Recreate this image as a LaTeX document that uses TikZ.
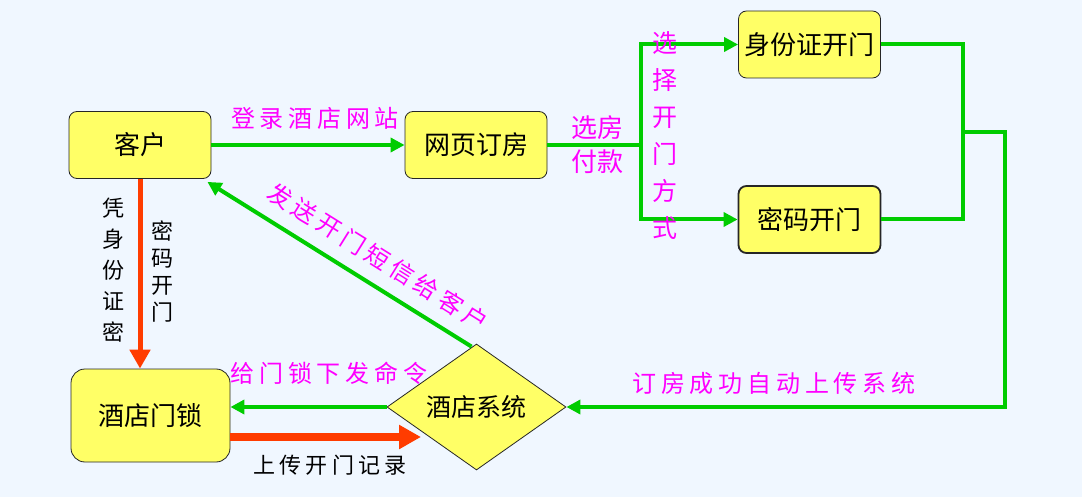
\documentclass[tikz,border=0pt]{standalone}
\usepackage{fontspec}
\newfontfamily\cjk{Noto Sans CJK SC}
\newfontfamily\cjkwide[LetterSpace=20]{Noto Sans CJK SC}
\usetikzlibrary{arrows.meta, shapes.geometric}
\definecolor{bgblue}{RGB}{240, 247, 255}
\definecolor{boxyellow}{RGB}{255, 255, 102}
\definecolor{flowgreen}{RGB}{0, 204, 0}
\definecolor{flowred}{RGB}{255, 60, 0}
\definecolor{labelpink}{RGB}{255, 0, 255}

\begin{document}
\begin{tikzpicture}[x=1pt, y=-1pt, font=\cjk,
    box/.style={draw=black!85, fill=boxyellow, rounded corners=8pt, line width=0.8pt,
        minimum width=\bw pt, minimum height=\bh pt, inner sep=0pt,
        font=\cjk\fontsize{26}{30}\selectfont},
    greenline/.style={flowgreen, line width=4pt},
    greenarrow/.style={greenline, -{Triangle[length=14pt, width=14pt]}},
    redarrow/.style={flowred, line width=5pt, -{Triangle[length=19pt, width=20pt]}},
    redthick/.style={flowred, line width=7.5pt, -{Triangle[length=22pt, width=23pt]}},
    pinklabel/.style={text=labelpink, inner sep=0pt, font=\cjkwide\fontsize{24}{28}\selectfont},
    pinkvert/.style={text=labelpink, inner sep=0pt, align=center},
    blacklabel/.style={text=black, inner sep=0pt, align=center}]
    % Dimensions
    \def\bw{142}  % box width
    \def\bh{67}   % box height

    % 1. Background
    \fill[bgblue] (0,0) rectangle (1082,497);
    \useasboundingbox (0,0) rectangle (1082,497);

    % 2. Boxes
    \node[box] (client) at (140,145) {客户};
    \node[box] (web) at (476,145) {网页订房};
    \node[box] (idopen) at (809.5,44.5) {身份证开门};
    \node[box, line width=1.8pt] (pwdopen) at (809.5,219.5) {密码开门};
    \node[box, minimum width=159pt, minimum height=93pt, rounded corners=14pt] (lock) at (150.5,415.5) {酒店门锁};
    \node[diamond, draw=black!85, fill=boxyellow, line width=0.8pt, inner sep=0pt,
        minimum width=179pt, minimum height=126pt, font=\cjk\fontsize{25}{29}\selectfont] (sys) at (476.5,407) {酒店系统};

    % 3. Corner points
    \coordinate (split) at (641,145);
    \coordinate (merge) at (963,132);
    \coordinate (turn) at (1005,132);
    \coordinate (rec) at (421,437);

    % 4. Green flow
    \draw[greenarrow] (client) -- (web);
    \draw[greenarrow] (web) -- (split) |- (idopen);
    \draw[greenarrow] (split) |- (pwdopen);
    \draw[greenline] (idopen) -| (merge) |- (pwdopen);
    \draw[greenarrow] (merge) -- (turn) |- (sys);
    \draw[greenarrow] (sys.west) -- (sys.west -| lock.east);
    \draw[greenarrow] ([xshift=-5pt, yshift=-3pt]sys.north) -- ([xshift=-4pt, yshift=-3pt]client.south east);

    % 5. Red flow
    \draw[redarrow] (client.south) -- (client.south |- lock.north);
    \draw[redthick] (lock.east |- rec) -- (rec);

    % 6. Labels
    \node[pinklabel] (lbllogin) at (315,118) {登录酒店网站};
    \node[pinkvert, font=\cjk\fontsize{26}{34}\selectfont] (lblpay) at (597,145) {选房\\付款};
    \node[pinkvert, font=\cjk\fontsize{25}{37}\selectfont] (lblway) at (665,136) {选\\择\\开\\门\\方\\式};
    \node[pinklabel] (lblupload) at (774,383) {订房成功自动上传系统};
    \node[pinklabel] (lblcmd) at (329,373) {给门锁下发命令};
    \node[pinklabel, rotate=-32] (lblsms) at (378,257) {发送开门短信给客户};
    \node[blacklabel, font=\cjk\fontsize{22}{31}\selectfont] (lblid) at (113,270) {凭\\身\\份\\证\\密};
    \node[blacklabel, font=\cjk\fontsize{22}{27}\selectfont] (lblpwd) at (162,272) {密\\码\\开\\门};
    \node[blacklabel, font=\cjkwide\fontsize{22}{26}\selectfont] (lblrec) at (330,465) {上传开门记录};

\end{tikzpicture}
\end{document}
